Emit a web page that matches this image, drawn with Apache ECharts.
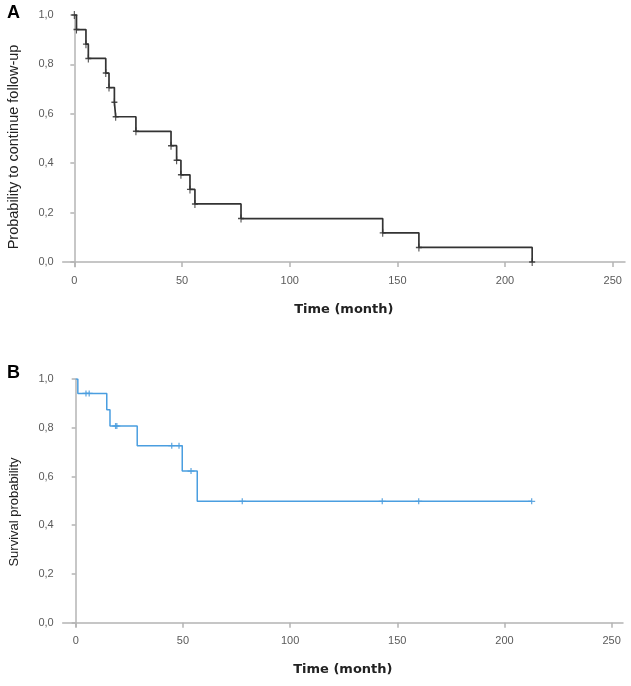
<!DOCTYPE html>
<html>
<head>
<meta charset="utf-8">
<script src="https://cdn.jsdelivr.net/npm/echarts@6/dist/echarts.min.js"></script>
<style>
html,body{margin:0;padding:0;background:#fff;}
#chart{width:631px;height:686px;}
</style>
</head>
<body>
<div id="chart"></div>
<script>
// Panel A: probability to continue follow-up (step points)
var timesA = [0, 1, 5.4, 6.5, 14.6, 16.1, 18.6, 19.2, 28.6, 44.9, 47.5, 49.5, 53.7, 56, 77.4, 143.2, 160, 212.6];
var survA  = [1, 0.941, 0.882, 0.824, 0.765, 0.706, 0.647, 0.588, 0.529, 0.471, 0.412, 0.353, 0.294, 0.235, 0.176, 0.118, 0.059, 0];
// Panel B: survival probability (step points)
var timesB = [0, 1, 14.5, 16, 28.7, 49.7, 56.7, 212.7];
var survB  = [1, 0.941, 0.874, 0.807, 0.726, 0.622, 0.498, 0.498];
// Panel B censored marks
var censorTimesB = [4.8, 6.3, 18.6, 19.2, 44.8, 48.2, 53.8, 77.7, 143, 160, 212.7];
var censorSurvB  = [0.941, 0.941, 0.807, 0.807, 0.726, 0.726, 0.622, 0.498, 0.498, 0.498, 0.498];
// Tick labels
var xTicks = [0, 50, 100, 150, 200, 250];
var yTicks = [0, 0.2, 0.4, 0.6, 0.8, 1.0];

function pairs(xs, ys){ return xs.map(function(x,i){ return [x, ys[i]]; }); }

var axisGrey = '#b4b4b4';
var labelGrey = '#5a5a5a';
var plus = 'path://M-0.18,-1H0.18V-0.18H1V0.18H0.18V1H-0.18V0.18H-1V-0.18H-0.18Z';

function xAx(gi, min, max){
  return {
    type:'value', gridIndex:gi, min:min, max:max,
    name:'Time (month)', nameLocation:'middle', nameGap:36,
    nameTextStyle:{fontFamily:'DejaVu Sans', fontWeight:'bold', fontSize:13, color:'#222'},
    splitLine:{show:false},
    axisLine:{lineStyle:{color:axisGrey, width:1.5}},
    axisTick:{customValues:xTicks, length:5, lineStyle:{color:axisGrey, width:1.5}},
    axisLabel:{customValues:xTicks, margin:9, fontFamily:'Liberation Sans', fontSize:11, color:labelGrey}
  };
}
function yAx(gi, min){
  return {
    type:'value', gridIndex:gi, min:min, max:1,
    splitLine:{show:false},
    axisLine:{show:true, lineStyle:{color:axisGrey, width:1.5}},
    axisTick:{show:true, customValues:yTicks, length:4, lineStyle:{color:axisGrey, width:1.5}},
    axisLabel:{customValues:yTicks, margin:9, fontFamily:'Liberation Sans', fontSize:11, color:labelGrey,
      formatter:function(v){ return v.toFixed(1).replace('.', ','); }}
  };
}

var chart = echarts.init(document.getElementById('chart'));
chart.setOption({
  animation:false,
  backgroundColor:'#fff',
  graphic:[
    {type:'text', left:7, top:4, style:{text:'A', font:'bold 18px Liberation Sans', fill:'#000'}},
    {type:'text', left:7, top:364, style:{text:'B', font:'bold 18px Liberation Sans', fill:'#000'}},
    {type:'text', x:14, y:147, rotation:Math.PI/2,
     style:{text:'Probability to continue follow-up', font:'14.5px Liberation Sans', fill:'#222', align:'center', verticalAlign:'middle'}},
    {type:'text', x:14, y:512, rotation:Math.PI/2,
     style:{text:'Survival probability', font:'13px Liberation Sans', fill:'#222', align:'center', verticalAlign:'middle'}}
  ],
  grid:[
    {left:62.7, right:6, top:15, bottom:419.3},
    {left:62.7, right:8, top:379, bottom:59.3}
  ],
  xAxis:[ xAx(0, -5.4, 255.7), xAx(1, -6.06, 255.3) ],
  yAxis:[ yAx(0, -0.019), yAx(1, -0.0164) ],
  series:[
    {type:'line', xAxisIndex:0, yAxisIndex:0, step:'end', showSymbol:false, symbol:'none',
     data:pairs(timesA, survA), lineStyle:{color:'#333', width:1.7}},
    {type:'scatter', xAxisIndex:0, yAxisIndex:0, symbol:plus, symbolSize:[6,8],
     data:pairs(timesA, survA), itemStyle:{color:'#222'}},
    {type:'line', xAxisIndex:1, yAxisIndex:1, step:'end', showSymbol:false, symbol:'none',
     data:pairs(timesB, survB), lineStyle:{color:'#4a9ee0', width:1.5}},
    {type:'scatter', xAxisIndex:1, yAxisIndex:1, symbol:plus, symbolSize:[7,6],
     data:pairs(censorTimesB, censorSurvB), itemStyle:{color:'#3d93d8'}}
  ]
});
</script>
</body>
</html>
